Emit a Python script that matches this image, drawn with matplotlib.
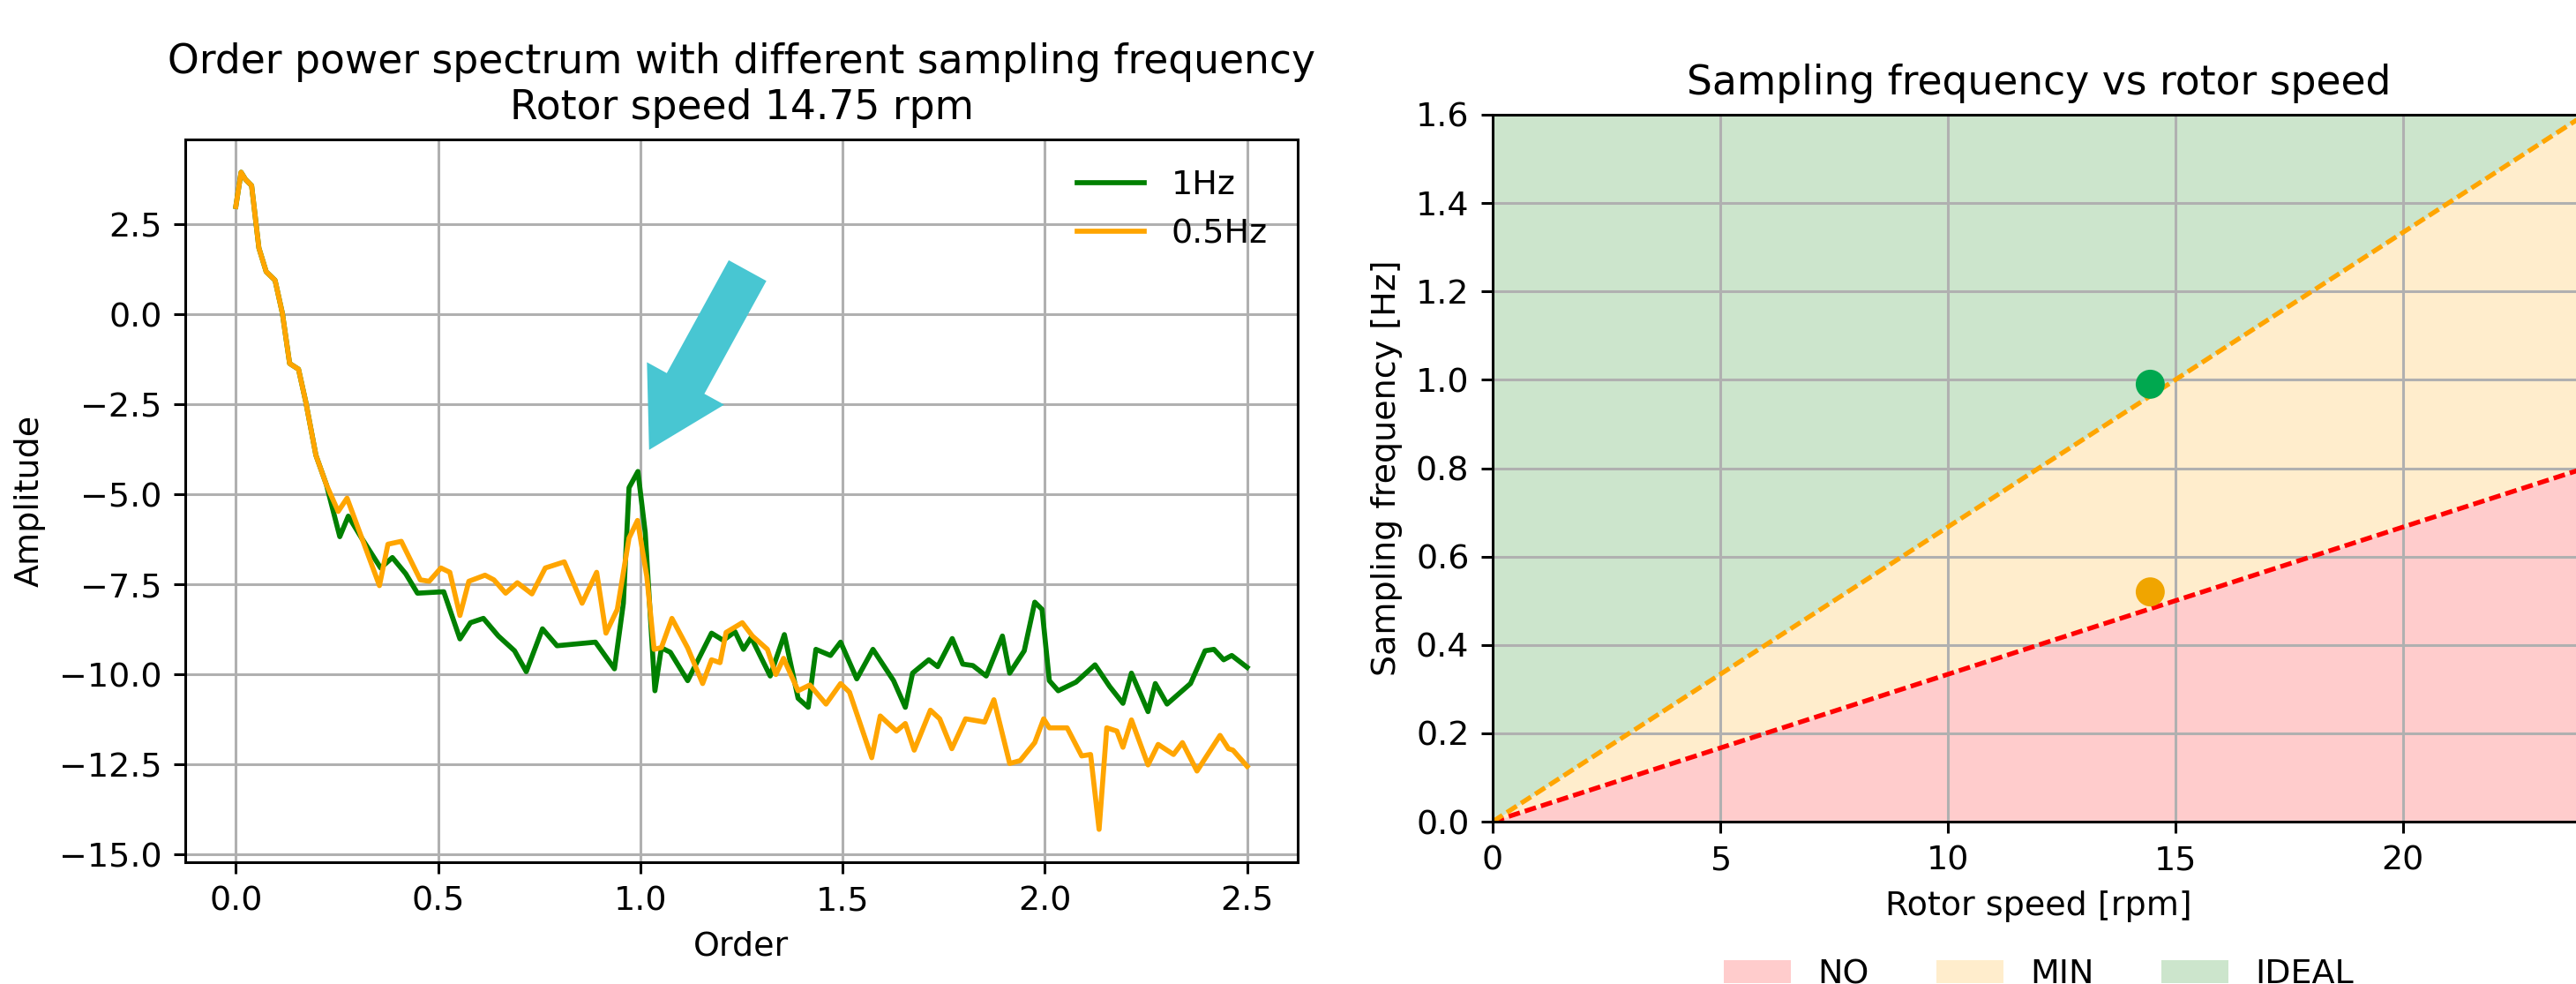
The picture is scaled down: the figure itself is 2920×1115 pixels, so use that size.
import matplotlib
matplotlib.use("Agg")
import matplotlib.pyplot as plt
from matplotlib.patches import ArrowStyle

W, H, DPI = 2920, 1115, 273.6

# ---------------- data: order power spectrum ----------------
order_1hz = [0.0, 0.013, 0.024, 0.039, 0.057, 0.075, 0.097, 0.115, 0.133, 0.155,
             0.173, 0.198, 0.224, 0.257, 0.278, 0.311, 0.358, 0.387, 0.42, 0.449,
             0.514, 0.554, 0.58, 0.612, 0.649, 0.689, 0.718, 0.758, 0.794, 0.889,
             0.936, 0.958, 0.972, 0.994, 1.012, 1.036, 1.052, 1.074, 1.117, 1.176,
             1.205, 1.234, 1.255, 1.274, 1.321, 1.356, 1.39, 1.415, 1.434, 1.47,
             1.495, 1.535, 1.575, 1.626, 1.655, 1.673, 1.713, 1.735, 1.771, 1.797,
             1.822, 1.855, 1.895, 1.913, 1.949, 1.975, 1.993, 2.011, 2.033, 2.077,
             2.124, 2.16, 2.193, 2.214, 2.255, 2.273, 2.302, 2.36, 2.396, 2.418,
             2.442, 2.462, 2.5]
amp_1hz = [3.0, 3.95, 3.75, 3.58, 1.85, 1.19, 0.95, 0.04, -1.36, -1.52,
           -2.43, -3.91, -4.73, -6.17, -5.6, -6.21, -7.04, -6.75, -7.2, -7.74,
           -7.7, -9.01, -8.56, -8.44, -8.93, -9.34, -9.92, -8.73, -9.2, -9.1,
           -9.84, -8.02, -4.81, -4.36, -6.05, -10.45, -9.26, -9.38, -10.17, -8.85,
           -9.05, -8.81, -9.3, -8.97, -10.04, -8.89, -10.66, -10.91, -9.3, -9.47,
           -9.1, -10.12, -9.3, -10.17, -10.91, -9.96, -9.59, -9.78, -9.0, -9.71,
           -9.75, -10.04, -8.93, -9.96, -9.34, -7.99, -8.19, -10.17, -10.45, -10.21,
           -9.73, -10.33, -10.8, -9.96, -11.03, -10.25, -10.82, -10.25, -9.34, -9.3,
           -9.59, -9.47, -9.8]

order_05hz = [0.0, 0.013, 0.024, 0.039, 0.057, 0.075, 0.097, 0.115, 0.133, 0.155,
              0.173, 0.198, 0.224, 0.253, 0.275, 0.355, 0.376, 0.409, 0.456, 0.478,
              0.507, 0.529, 0.554, 0.576, 0.616, 0.638, 0.667, 0.696, 0.732, 0.765,
              0.812, 0.856, 0.892, 0.915, 0.943, 0.972, 0.993, 1.016, 1.034, 1.052,
              1.078, 1.117, 1.154, 1.176, 1.197, 1.212, 1.252, 1.277, 1.314, 1.335,
              1.354, 1.39, 1.419, 1.459, 1.495, 1.517, 1.572, 1.593, 1.633, 1.655,
              1.677, 1.717, 1.74, 1.77, 1.804, 1.851, 1.874, 1.913, 1.939, 1.975,
              1.997, 2.011, 2.055, 2.091, 2.113, 2.134, 2.153, 2.178, 2.193, 2.214,
              2.255, 2.28, 2.318, 2.34, 2.376, 2.433, 2.454, 2.465, 2.5]
amp_05hz = [3.0, 3.95, 3.75, 3.58, 1.85, 1.19, 0.95, 0.04, -1.36, -1.52,
            -2.43, -3.91, -4.73, -5.47, -5.1, -7.53, -6.38, -6.3, -7.37, -7.41,
            -7.04, -7.16, -8.36, -7.41, -7.24, -7.37, -7.74, -7.45, -7.76, -7.04,
            -6.87, -8.02, -7.16, -8.85, -8.19, -6.21, -5.72, -7.28, -9.3, -9.25,
            -8.44, -9.26, -10.25, -9.59, -9.67, -8.83, -8.56, -8.93, -9.3, -10.0,
            -9.55, -10.45, -10.29, -10.82, -10.25, -10.49, -12.31, -11.15, -11.57, -11.36,
            -12.1, -10.99, -11.23, -12.06, -11.23, -11.32, -10.7, -12.47, -12.39, -11.89,
            -11.23, -11.48, -11.48, -12.26, -12.22, -14.3, -11.48, -11.57, -12.02, -11.26,
            -12.51, -11.94, -12.22, -11.89, -12.68, -11.69, -12.06, -12.1, -12.55]

# ---------------- data: sampling frequency vs rotor speed ----------------
rotor_speed = [0, 24]
fs_min = [0.0, 0.8]       # Nyquist limit
fs_ideal = [0.0, 1.6]     # ideal sampling
fs_bottom = [0.0, 0.0]
fs_top = [1.6, 1.6]
zone_labels = ['NO', 'MIN', 'IDEAL']
point_speed = [14.45, 14.45]
point_fs = [0.99, 0.52]
point_colors = ['#00A84F', '#F0A500']

fig = plt.figure(figsize=(W / DPI, H / DPI), dpi=DPI)

# ---------------- left panel ----------------
ax1 = fig.add_axes([210 / W, 1 - 977 / H, 1261 / W, 819 / H])
ax1.plot(order_1hz, amp_1hz, color='green', label='1Hz')
ax1.plot(order_05hz, amp_05hz, color='orange', label='0.5Hz')
ax1.set_title('Order power spectrum with different sampling frequency\nRotor speed 14.75 rpm')
ax1.set_xlabel('Order')
ax1.set_ylabel('Amplitude')
ax1.grid(True)
ax1.legend(loc='upper right', frameon=False)
ax1.annotate('', xy=(1.0216, -3.76), xytext=(1.265, 1.22),
             arrowprops=dict(arrowstyle=ArrowStyle.Simple(head_length=22.6, head_width=26.3,
                                                          tail_width=12.8),
                             mutation_scale=1, fc='#48C6D2', ec='none', lw=0,
                             shrinkA=0, shrinkB=0))

# ---------------- right panel ----------------
ax2 = fig.add_axes([1692 / W, 1 - 931 / H, 1238 / W, 801 / H])
ax2.fill_between(rotor_speed, fs_bottom, fs_min, color='red', alpha=0.2, lw=0, label=zone_labels[0])
ax2.fill_between(rotor_speed, fs_min, fs_ideal, color='orange', alpha=0.2, lw=0, label=zone_labels[1])
ax2.fill_between(rotor_speed, fs_ideal, fs_top, color='green', alpha=0.2, lw=0, label=zone_labels[2])
ax2.plot(rotor_speed, fs_min, color='red', lw=1.4, dashes=(2.5, 1.1))
ax2.plot(rotor_speed, fs_ideal, color='orange', lw=1.4, dashes=(2.5, 1.1))
ax2.scatter(point_speed, point_fs, c=point_colors, s=75, lw=0, zorder=3)
ax2.set_xlim(0, 24)
ax2.set_ylim(0, 1.6)
ax2.set_title('Sampling frequency vs rotor speed')
ax2.set_xlabel('Rotor speed [rpm]')
ax2.set_ylabel('Sampling frequency [Hz]')
ax2.grid(True)
ax2.legend(loc='upper center', bbox_to_anchor=(0.5, -0.151), ncol=3, frameon=False)

fig.savefig('out.png', dpi=DPI)
